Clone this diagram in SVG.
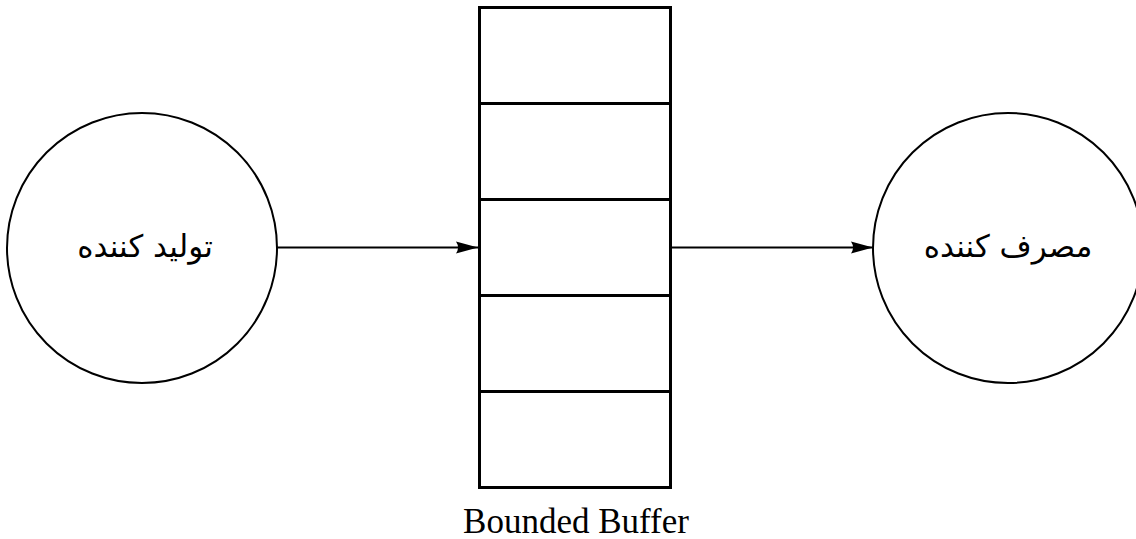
<svg xmlns="http://www.w3.org/2000/svg" width="1136" height="539" viewBox="0 0 1136 539">
  <style>
    .node { fill: #fff; stroke: #000; stroke-width: 2; }
    .buf { fill: #fff; stroke: #000; stroke-width: 3; }
    .edge { stroke: #000; stroke-width: 2; fill: none; }
    .fa { font-family: "DejaVu Sans", "Noto Sans", sans-serif; font-size: 31px; fill: #000; }
    .en { font-family: "Liberation Serif", serif; font-size: 35px; fill: #000; }
  </style>
  <defs>
    <marker id="arrow" viewBox="0 0 22 13" refX="22" refY="6.5" markerWidth="22" markerHeight="13" markerUnits="userSpaceOnUse" orient="auto">
      <path d="M0,0.5 Q4,6.5 0,12.5 L22,6.5 Z" fill="#000"/>
    </marker>
  </defs>

  <rect width="1136" height="539" fill="#fff"/>

  <g id="producer">
    <circle class="node" cx="142" cy="248" r="135"/>
    <text class="fa" x="145" y="257" text-anchor="middle" direction="rtl">تولید کننده</text>
  </g>

  <g id="buffer">
    <rect class="buf" x="479.5" y="7.5" width="191" height="480"/>
    <line class="buf" x1="479.5" y1="103.5" x2="670.5" y2="103.5"/>
    <line class="buf" x1="479.5" y1="199.5" x2="670.5" y2="199.5"/>
    <line class="buf" x1="479.5" y1="295.5" x2="670.5" y2="295.5"/>
    <line class="buf" x1="479.5" y1="391.5" x2="670.5" y2="391.5"/>
    <text class="en" x="576" y="533" text-anchor="middle">Bounded Buffer</text>
  </g>

  <g id="consumer">
    <circle class="node" cx="1008" cy="248" r="135"/>
    <text class="fa" x="1008" y="257" text-anchor="middle" direction="rtl">مصرف کننده</text>
  </g>

  <g id="connectors">
    <line class="edge" x1="277" y1="247.5" x2="478" y2="247.5" marker-end="url(#arrow)"/>
    <line class="edge" x1="672" y1="247.5" x2="873" y2="247.5" marker-end="url(#arrow)"/>
  </g>
</svg>
